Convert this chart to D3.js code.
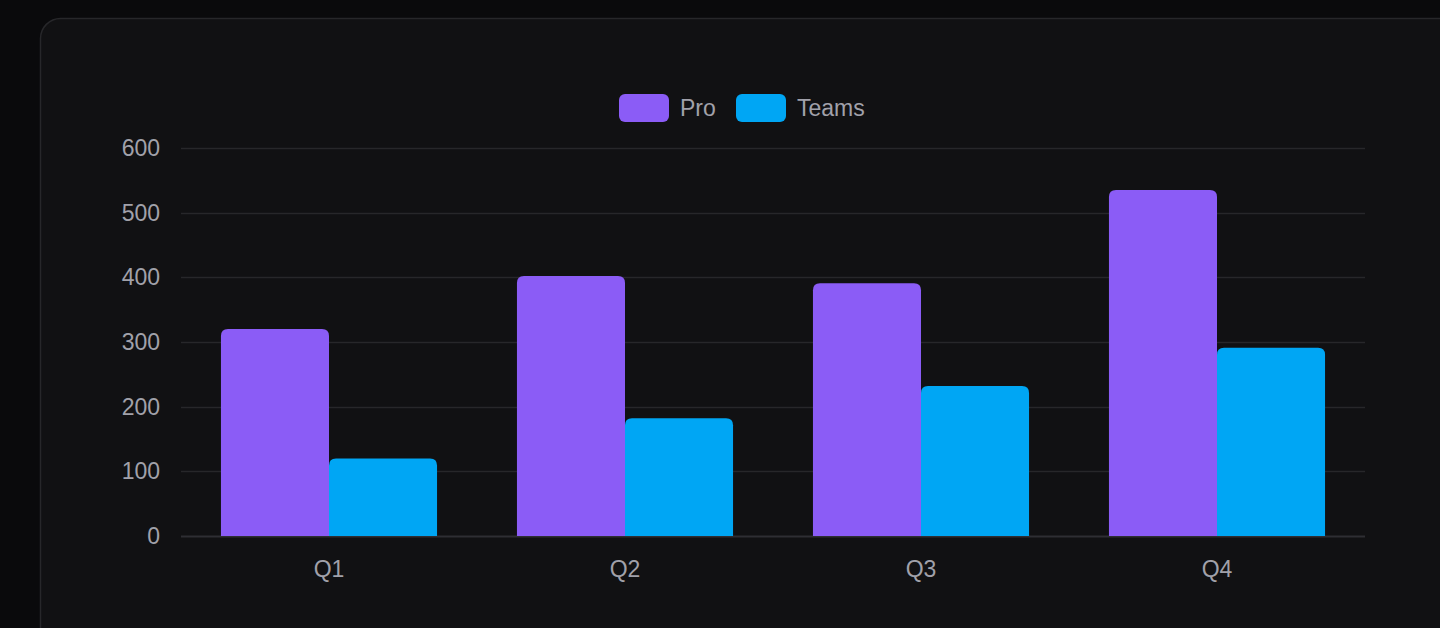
<!DOCTYPE html>
<html><head><meta charset="utf-8">
<script src="https://cdn.jsdelivr.net/npm/d3@7"></script>
<style>
html,body{margin:0;padding:0;background:#0a0a0c;width:1440px;height:628px;overflow:hidden;font-family:"Liberation Sans",Arial,sans-serif;}
</style></head><body>
<svg id="c" width="1440" height="628"></svg>
<script>
const categories = ["Q1","Q2","Q3","Q4"];
const seriesNames = ["Pro","Teams"];
const proValues = [320, 402, 391, 535];
const teamsValues = [120, 182, 232, 291];
const yTicks = [0,100,200,300,400,500,600];
const colors = ["#8b5cf6","#00a6f4"];

(function(){
const FS = 23;
const svg = d3.select("#c");
svg.append("rect").attr("x",0).attr("y",0).attr("width",1440).attr("height",628).attr("fill","#0a0a0c");
svg.append("rect").attr("x",40.5).attr("y",18.5).attr("width",1420).attr("height",660).attr("rx",20)
  .attr("fill","#111113").attr("stroke","#27272a").attr("stroke-width",1.5);

const pLeft=181, pRight=1365, pTop=148, pBottom=536;
const x = d3.scaleBand().domain(categories).range([pLeft,pRight]).paddingInner(0.27).paddingOuter(0.135);
const xs = d3.scaleBand().domain(seriesNames).range([0,x.bandwidth()]).padding(0);
const y = d3.scaleLinear().domain([0,600]).range([pBottom,pTop]);

// grid
const g = svg.append("g");
g.selectAll("line.grid").data(yTicks).join("line")
  .attr("x1",pLeft).attr("x2",pRight)
  .attr("y1",d=>Math.round(y(d))+0.5).attr("y2",d=>Math.round(y(d))+0.5)
  .attr("stroke",d=>d===0?"#2e2e33":"#27272a").attr("stroke-width",d=>d===0?2:1.5);

// y labels
const yAxis = d3.axisLeft(y).tickValues(yTicks).tickSize(0).tickPadding(21);
const ya = svg.append("g").attr("transform",`translate(${pLeft},0)`).call(yAxis);
ya.select(".domain").remove();
ya.selectAll("text").attr("fill","#a1a1aa").attr("font-size",FS).attr("font-family","Liberation Sans, Arial, sans-serif");

// x labels
const xAxis = d3.axisBottom(x).tickSize(0).tickPadding(25);
const xa = svg.append("g").attr("transform",`translate(0,${pBottom})`).call(xAxis);
xa.select(".domain").remove();
xa.selectAll("text").attr("fill","#a1a1aa").attr("font-size",FS).attr("font-family","Liberation Sans, Arial, sans-serif");

// bars
const data = [];
categories.forEach((c,i)=>{
  data.push({c, s:"Pro", v:proValues[i]});
  data.push({c, s:"Teams", v:teamsValues[i]});
});
function topRounded(x0,y0,w,h,r){
  r=Math.min(r,w/2,h);
  return `M${x0},${y0+h}V${y0+r}Q${x0},${y0} ${x0+r},${y0}H${x0+w-r}Q${x0+w},${y0} ${x0+w},${y0+r}V${y0+h}Z`;
}
svg.append("g").selectAll("path").data(data).join("path")
  .attr("d",d=>{
    const x0 = x(d.c)+xs(d.s), w = xs.bandwidth();
    const y0 = y(d.v), h = y(0)-y(d.v);
    return topRounded(x0,y0,w,h,7);
  })
  .attr("fill",d=>colors[seriesNames.indexOf(d.s)]);

// legend
const legend = svg.append("g");
const legendX = [619, 736];
seriesNames.forEach((s,i)=>{
  legend.append("rect").attr("x",legendX[i]).attr("y",94).attr("width",50).attr("height",28).attr("rx",6)
    .attr("fill",colors[i]);
  legend.append("text").attr("x",legendX[i]+61).attr("y",116).text(s)
    .attr("fill","#a1a1aa").attr("font-size",FS).attr("font-family","Liberation Sans, Arial, sans-serif");
});
})();
</script>
</body></html>
